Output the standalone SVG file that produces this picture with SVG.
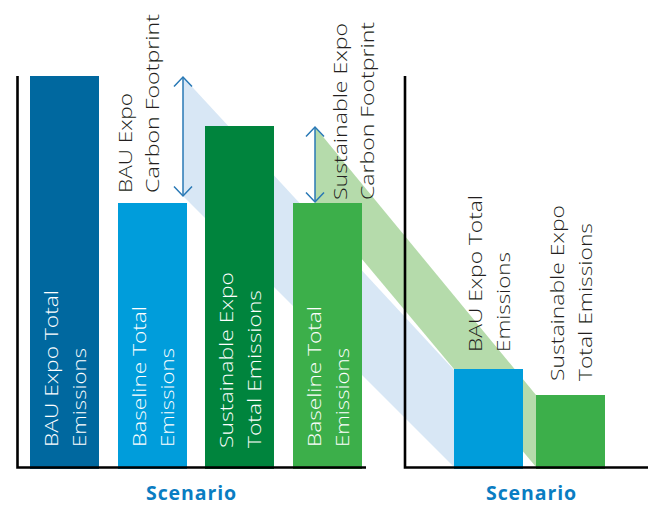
<svg xmlns="http://www.w3.org/2000/svg" width="648" height="506" viewBox="0 0 648 506">
<style>
.lbl{font-family:"Open Sans","DejaVu Sans",sans-serif;font-size:19px;font-weight:300;fill:#231F20}
.in{fill:#FFFFFF}
.ax{stroke:#000;stroke-width:2.6;fill:none}
.scn{font-family:"Open Sans","DejaVu Sans",sans-serif;font-size:19.5px;font-weight:700;fill:#0A7DC2;text-anchor:middle;letter-spacing:0.9px}
.arr{stroke:#2878B5;stroke-width:1.5;fill:none;marker-start:url(#chev);marker-end:url(#chev)}
</style>
<defs>
<marker id="chev" viewBox="-11 -11 13 22" refX="0" refY="0" markerWidth="13" markerHeight="22" markerUnits="userSpaceOnUse" orient="auto-start-reverse">
<path d="M-9.5,-9 L0,0 L-9.5,9" stroke="#2878B5" stroke-width="1.5" fill="none"/>
</marker>
</defs>
<rect width="648" height="506" fill="#FFFFFF"/>
<g id="bands">
<polygon points="183,77 454,370 454,467 183,196" fill="#D8E7F5"/>
<polygon points="315,127 536,395 536,467 315,203" fill="#B5DBAB"/>
</g>
<g id="bar-bau">
<rect x="30" y="76" width="69" height="393" fill="#00689F"/>
<text class="lbl in" transform="translate(58,447) rotate(-90)" textLength="157" lengthAdjust="spacingAndGlyphs">BAU Expo Total</text>
<text class="lbl in" transform="translate(85.5,447) rotate(-90)" textLength="99" lengthAdjust="spacingAndGlyphs">Emissions</text>
</g>
<g id="bar-baseline1">
<rect x="118" y="203" width="69" height="266" fill="#009DDB"/>
<text class="lbl in" transform="translate(146,447) rotate(-90)" textLength="141" lengthAdjust="spacingAndGlyphs">Baseline Total</text>
<text class="lbl in" transform="translate(173.5,447) rotate(-90)" textLength="99" lengthAdjust="spacingAndGlyphs">Emissions</text>
</g>
<g id="bar-sustainable">
<rect x="205" y="126" width="69" height="343" fill="#00843D"/>
<text class="lbl in" transform="translate(233,448) rotate(-90)" textLength="176" lengthAdjust="spacingAndGlyphs">Sustainable Expo</text>
<text class="lbl in" transform="translate(260.5,448) rotate(-90)" textLength="158" lengthAdjust="spacingAndGlyphs">Total Emissions</text>
</g>
<g id="bar-baseline2">
<rect x="293" y="203" width="69" height="266" fill="#3CAF4A"/>
<text class="lbl in" transform="translate(321,447) rotate(-90)" textLength="141" lengthAdjust="spacingAndGlyphs">Baseline Total</text>
<text class="lbl in" transform="translate(348.5,447) rotate(-90)" textLength="99" lengthAdjust="spacingAndGlyphs">Emissions</text>
</g>
<g id="bar-bau-total">
<rect x="454" y="369" width="69" height="100" fill="#009DDB"/>
<text class="lbl" transform="translate(482,352) rotate(-90)" textLength="157" lengthAdjust="spacingAndGlyphs">BAU Expo Total</text>
<text class="lbl" transform="translate(510,352) rotate(-90)" textLength="100" lengthAdjust="spacingAndGlyphs">Emissions</text>
</g>
<g id="bar-sustainable-total">
<rect x="536" y="395" width="69" height="74" fill="#3CAF4A"/>
<text class="lbl" transform="translate(564,381) rotate(-90)" textLength="176" lengthAdjust="spacingAndGlyphs">Sustainable Expo</text>
<text class="lbl" transform="translate(592,381) rotate(-90)" textLength="158" lengthAdjust="spacingAndGlyphs">Total Emissions</text>
</g>
<g id="label-bau-footprint">
<text class="lbl" transform="translate(132,193) rotate(-90)" textLength="100" lengthAdjust="spacingAndGlyphs">BAU Expo</text>
<text class="lbl" transform="translate(159,193) rotate(-90)" textLength="179" lengthAdjust="spacingAndGlyphs">Carbon Footprint</text>
</g>
<g id="label-sustainable-footprint">
<text class="lbl" transform="translate(347,200) rotate(-90)" textLength="177" lengthAdjust="spacingAndGlyphs">Sustainable Expo</text>
<text class="lbl" transform="translate(374,200) rotate(-90)" textLength="178" lengthAdjust="spacingAndGlyphs">Carbon Footprint</text>
</g>
<g id="axes">
<polyline class="ax" points="17.5,76 17.5,467.5 366,467.5"/>
<polyline class="ax" points="405,76 405,467.5 648,467.5"/>
<text class="scn" x="191.5" y="500">Scenario</text>
<text class="scn" x="531.5" y="500">Scenario</text>
</g>
<g id="connectors">
<line class="arr" x1="183" y1="77" x2="183" y2="196"/>
<line class="arr" x1="315" y1="127" x2="315" y2="202"/>
</g>
</svg>
